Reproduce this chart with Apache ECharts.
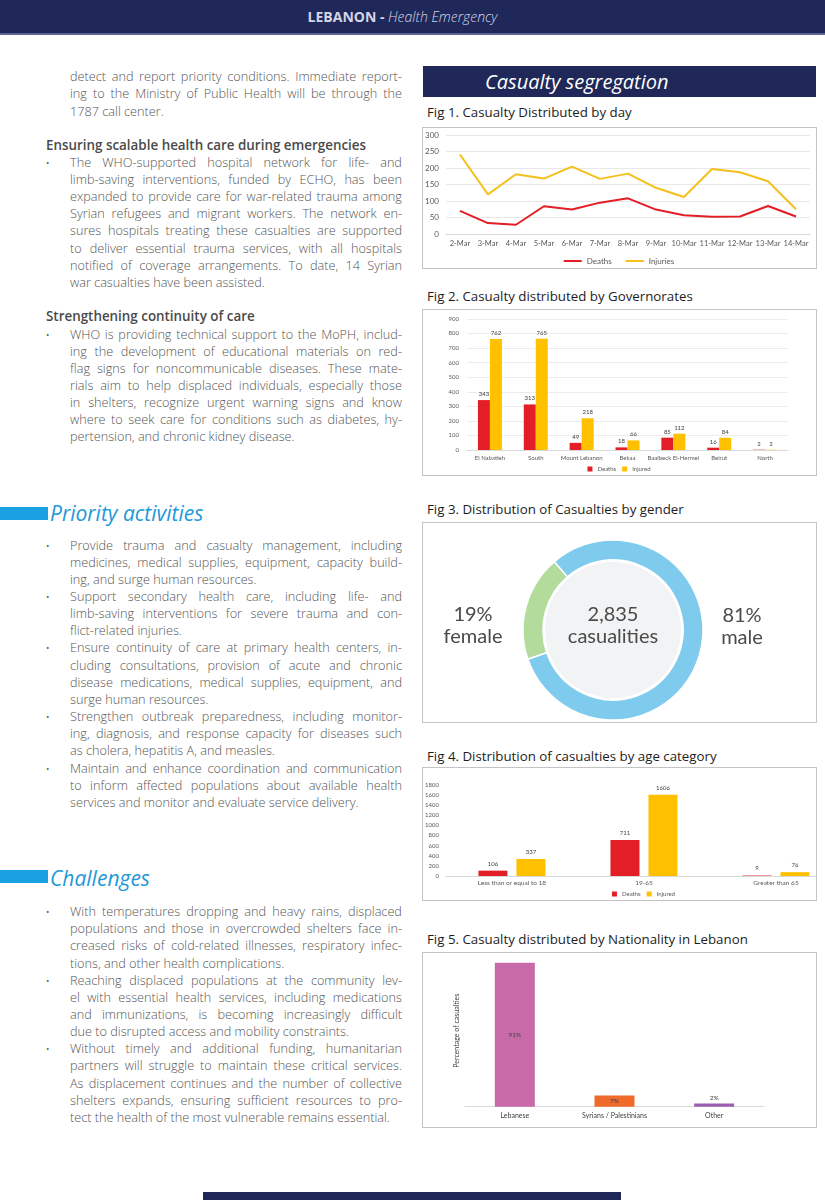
<!DOCTYPE html>
<html><head><meta charset="utf-8">
<script src="https://cdn.jsdelivr.net/npm/echarts/dist/echarts.min.js"></script>
<style>
body{margin:0;width:825px;height:1200px;position:relative;background:#fff;overflow:hidden;font-family:"Open Sans",sans-serif;}
.a{position:absolute}
.ln{position:absolute;left:70px;width:332px;height:17px;line-height:17.15px;font-size:12.7px;font-weight:300;color:#555;white-space:nowrap}
.jl{display:flex;justify-content:space-between}
.bul{position:absolute;left:46px;font-size:9px;color:#666;line-height:17.15px}
.hd{position:absolute;left:46px;font-size:13.4px;font-weight:600;color:#4a4a4a;line-height:17px;white-space:nowrap}
.figt{position:absolute;left:427px;font-size:13.3px;color:#1d1d1d;line-height:16px;white-space:nowrap}
.box{position:absolute;border:1.3px solid #c4c4c4;box-sizing:border-box;pointer-events:none}
.sec{position:absolute;left:50px;font-size:21px;font-style:italic;color:#2299d8;line-height:28px;white-space:nowrap}
.bar{position:absolute;left:0;width:48px;background:#1ba0e2}
</style></head><body>
<div class="a" style="left:0;top:0;width:825px;height:33px;background:#1f2858;border-bottom:2px solid #5a6795"></div>
<div class="a" style="left:0;top:0;width:805px;height:34px;line-height:34px;text-align:center;font-size:14px;color:#d3d6e8;white-space:nowrap"><b style="font-weight:700">LEBANON - </b><i style="font-weight:300">Health Emergency</i></div>

<div class="a" style="left:423px;top:66px;width:393px;height:31px;background:#1f2858"></div>
<div class="a" style="left:485px;top:66px;height:31px;line-height:31px;font-size:20px;font-style:italic;color:#fff;white-space:nowrap">Casualty segregation</div>

<div id="texts"></div>

<div class="figt" style="top:104px">Fig 1. Casualty Distributed by day</div>
<div class="figt" style="top:288px">Fig 2. Casualty distributed by Governorates</div>
<div class="figt" style="top:501px">Fig 3. Distribution of Casualties by gender</div>
<div class="figt" style="top:748px">Fig 4. Distribution of casualties by age category</div>
<div class="figt" style="top:931px">Fig 5. Casualty distributed by Nationality in Lebanon</div>

<div id="c1" class="a" style="left:422px;top:127px;width:394px;height:141px"></div>
<div id="c2" class="a" style="left:422px;top:309px;width:394px;height:166px"></div>
<div id="c3" class="a" style="left:422px;top:523px;width:394px;height:199px"></div>
<div class="a" style="left:422px;top:768px;width:394px;height:132px;overflow:hidden"><div id="c4" style="position:absolute;left:0;top:0;width:443px;height:132px"></div></div>
<div id="c5" class="a" style="left:422px;top:952px;width:394px;height:175px"></div>

<div class="box" style="left:422px;top:127px;width:395px;height:142px"></div>
<div class="box" style="left:422px;top:309px;width:395px;height:167px"></div>
<div class="box" style="left:422px;top:522px;width:395px;height:201px"></div>
<div class="box" style="left:422px;top:767px;width:395px;height:134px"></div>
<div class="box" style="left:422px;top:952px;width:395px;height:176px"></div>

<div class="bar" style="top:507px;height:13px"></div>
<div class="sec" style="top:499px">Priority activities</div>
<div class="bar" style="top:870px;height:13px"></div>
<div class="sec" style="top:864px">Challenges</div>

<div class="a" style="left:203px;top:1192px;width:418px;height:8px;background:#1f2858"></div>

<script>
// ---------- chart data ----------
const days = ['2-Mar','3-Mar','4-Mar','5-Mar','6-Mar','7-Mar','8-Mar','9-Mar','10-Mar','11-Mar','12-Mar','13-Mar','14-Mar'];
const dailyDeaths = [70,33,28,84,74,95,108,74,57,52,53,85,53];
const dailyInjuries = [241,120,181,168,204,167,183,140,112,197,187,160,75];
const dayTicks = [0,300,50];

const governorates = ['El Nabatieh','South','Mount Lebanon','Bekaa','Baalbeck El-Hermel','Beirut','North'];
const govDeaths = [343,313,49,18,85,16,2];
const govInjured = [762,765,218,66,112,84,2];
const govTicks = [0,900,100];

const genderLabels = ['female','male'];
const genderShares = [19,81];
const totalCasualties = 2835;

const ageGroups = ['Less than or equal to 18','19-65','Greater than 65'];
const ageDeaths = [106,711,9];
const ageInjured = [337,1606,76];
const ageTicks = [0,1800,200];

const nationalities = ['Lebanese','Syrians / Palestinians','Other'];
const nationalityShares = [91,7,2];

// ---------- page text ----------
const paras = [
 {b:81.7, bullet:false, lines:['detect and report priority conditions. Immediate report-','ing to the Ministry of Public Health will be through the','1787 call center.']},
 {b:167.3, bullet:true, lines:['The WHO-supported hospital network for life- and','limb-saving interventions, funded by ECHO, has been','expanded to provide care for war-related trauma among','Syrian refugees and migrant workers. The network en-','sures hospitals treating these casualties are supported','to deliver essential trauma services, with all hospitals','notified of coverage arrangements. To date, 14 Syrian','war casualties have been assisted.']},
 {b:339, bullet:true, lines:['WHO is providing technical support to the MoPH, includ-','ing the development of educational materials on red-','flag signs for noncommunicable diseases. These mate-','rials aim to help displaced individuals, especially those','in shelters, recognize urgent warning signs and know','where to seek care for conditions such as diabetes, hy-','pertension, and chronic kidney disease.']},
 {b:550, bullet:true, lines:['Provide trauma and casualty management, including','medicines, medical supplies, equipment, capacity build-','ing, and surge human resources.']},
 {b:550+3*17.15, bullet:true, lines:['Support secondary health care, including life- and','limb-saving interventions for severe trauma and con-','flict-related injuries.']},
 {b:550+6*17.15, bullet:true, lines:['Ensure continuity of care at primary health centers, in-','cluding consultations, provision of acute and chronic','disease medications, medical supplies, equipment, and','surge human resources.']},
 {b:550+10*17.15, bullet:true, lines:['Strengthen outbreak preparedness, including monitor-','ing, diagnosis, and response capacity for diseases such','as cholera, hepatitis A, and measles.']},
 {b:550+13*17.15, bullet:true, lines:['Maintain and enhance coordination and communication','to inform affected populations about available health','services and monitor and evaluate service delivery.']},
 {b:916.5, bullet:true, lines:['With temperatures dropping and heavy rains, displaced','populations and those in overcrowded shelters face in-','creased risks of cold-related illnesses, respiratory infec-','tions, and other health complications.']},
 {b:916.5+4*17.15, bullet:true, lines:['Reaching displaced populations at the community lev-','el with essential health services, including medications','and immunizations, is becoming increasingly difficult','due to disrupted access and mobility constraints.']},
 {b:916.5+8*17.15, bullet:true, lines:['Without timely and additional funding, humanitarian','partners will struggle to maintain these critical services.','As displacement continues and the number of collective','shelters expands, ensuring sufficient resources to pro-','tect the health of the most vulnerable remains essential.']}
];
const heads = [{b:150.7,t:'Ensuring scalable health care during emergencies'},{b:321.7,t:'Strengthening continuity of care'}];
(function(){
  const host = document.getElementById('texts');
  let html = '';
  paras.forEach(p=>{
    p.lines.forEach((l,i)=>{
      const top = (p.b + i*17.15 - 13.5).toFixed(1);
      const last = i===p.lines.length-1;
      if(last) html += `<div class="ln" style="top:${top}px">${l}</div>`;
      else html += `<div class="ln jl" style="top:${top}px">${l.split(' ').map(w=>'<span>'+w+'</span>').join('')}</div>`;
    });
    if(p.bullet) html += `<div class="bul" style="top:${(p.b-13.5).toFixed(1)}px">&#8226;</div>`;
  });
  heads.forEach(h=>{ html += `<div class="hd" style="top:${(h.b-13.6).toFixed(1)}px">${h.t}</div>`; });
  host.innerHTML = html;
})();

// ---------- charts ----------
const RED='#e31e26', YEL='#ffc000', FF='Lato, sans-serif', TC='#595959';

echarts.init(document.getElementById('c1')).setOption({
  animation:false, textStyle:{fontFamily:FF},
  grid:{left:23,right:6,top:8,bottom:34},
  legend:{bottom:3,left:'center',padding:0,icon:'rect',itemWidth:18,itemHeight:2,itemGap:14,textStyle:{fontSize:8,color:TC,fontFamily:FF},data:['Deaths','Injuries']},
  xAxis:{type:'category',data:days,axisLine:{lineStyle:{color:'#d9d9d9'}},axisTick:{show:false},axisLabel:{color:TC,fontSize:7.5,margin:6,interval:0}},
  yAxis:{type:'value',min:dayTicks[0],max:dayTicks[1],interval:dayTicks[2],axisLabel:{color:TC,fontSize:8,margin:7},splitLine:{lineStyle:{color:'#e8e8e8'}}},
  series:[
    {name:'Deaths',type:'line',data:dailyDeaths,showSymbol:false,lineStyle:{color:RED,width:2},itemStyle:{color:RED}},
    {name:'Injuries',type:'line',data:dailyInjuries,showSymbol:false,lineStyle:{color:'#f4c01c',width:2},itemStyle:{color:'#f4c01c'}}
  ]
});

echarts.init(document.getElementById('c2')).setOption({
  animation:false, textStyle:{fontFamily:FF},
  grid:{left:45,right:28,top:10,bottom:25},
  legend:{bottom:3,left:'center',padding:0,icon:'rect',itemWidth:5,itemHeight:5,itemGap:6,textStyle:{fontSize:6,color:TC,fontFamily:FF},data:['Deaths','Injured']},
  xAxis:{type:'category',data:governorates,axisLine:{lineStyle:{color:'#d9d9d9'}},axisTick:{show:false},axisLabel:{color:TC,fontSize:6,margin:5,interval:0}},
  yAxis:{type:'value',min:govTicks[0],max:govTicks[1],interval:govTicks[2],axisLabel:{color:TC,fontSize:6,margin:8},splitLine:{lineStyle:{color:'#ececec'}}},
  series:[
    {name:'Deaths',type:'bar',data:govDeaths,barWidth:12,barGap:'0%',itemStyle:{color:RED},label:{show:true,position:'top',fontSize:6,color:'#404040',distance:3}},
    {name:'Injured',type:'bar',data:govInjured,barWidth:12,itemStyle:{color:YEL},label:{show:true,position:'top',fontSize:6,color:'#404040',distance:3}}
  ]
});

const gtxt = (x,y,t)=>({type:'text',x:x,y:y,z:10,style:{text:t,align:'center',verticalAlign:'middle',font:'20px Lato',fill:'#4a4a4a'}});
echarts.init(document.getElementById('c3')).setOption({
  animation:false,
  graphic:[
    {type:'circle',shape:{cx:191,cy:107,r:68},style:{fill:'#f2f3f5'},z:0},
    gtxt(51,92,genderShares[0]+'%'), gtxt(51,114,genderLabels[0]),
    gtxt(191,92,totalCasualties.toLocaleString('en-US')), gtxt(191,114,'casualities'),
    gtxt(320,93,genderShares[1]+'%'), gtxt(320,115,genderLabels[1])
  ],
  series:[{type:'pie',center:[191,107],radius:[70,90],startAngle:199,clockwise:true,silent:true,label:{show:false},labelLine:{show:false},
    itemStyle:{borderColor:'#fff',borderWidth:1.5},
    data:genderLabels.map((n,i)=>({name:n,value:genderShares[i],itemStyle:{color:['#b3dc9c','#7fcbed'][i]}}))}]
});

echarts.init(document.getElementById('c4')).setOption({
  animation:false, textStyle:{fontFamily:FF},
  grid:{left:23.5,right:23,top:17,bottom:24},
  legend:{bottom:3,left:'center',padding:0,icon:'rect',itemWidth:5,itemHeight:5,itemGap:6,textStyle:{fontSize:6,color:TC,fontFamily:FF},data:['Deaths','Injured']},
  xAxis:{type:'category',data:ageGroups,axisLine:{lineStyle:{color:'#d9d9d9'}},axisTick:{show:false},axisLabel:{color:TC,fontSize:6.5,margin:3,interval:0}},
  yAxis:{type:'value',min:ageTicks[0],max:ageTicks[1],interval:ageTicks[2],axisLabel:{color:TC,fontSize:6,margin:7,formatter:v=>String(v)},splitLine:{show:false}},
  series:[
    {name:'Deaths',type:'bar',data:ageDeaths,barWidth:29,barGap:'31%',itemStyle:{color:RED},label:{show:true,position:'top',fontSize:6,color:'#404040',distance:4}},
    {name:'Injured',type:'bar',data:ageInjured,barWidth:29,itemStyle:{color:YEL},label:{show:true,position:'top',fontSize:6,color:'#404040',distance:4}}
  ]
});

const natColors=['#c86aa8','#ee6b2c','#9b5fb0'];
echarts.init(document.getElementById('c5')).setOption({
  animation:false, textStyle:{fontFamily:FF},
  grid:{left:43,right:52,top:10.7,bottom:20.3},
  xAxis:{type:'category',data:nationalities,axisLine:{lineStyle:{color:'#d9d9d9'}},axisTick:{show:false},axisLabel:{color:'#404040',fontSize:7,margin:6,interval:0}},
  yAxis:{type:'value',min:0,max:v=>v.max,name:'Percentage of casualties',nameLocation:'middle',nameGap:5,nameRotate:90,nameTextStyle:{fontSize:7,color:'#404040',padding:[0,0,0,8]},axisLabel:{show:false},axisLine:{show:false},axisTick:{show:false},splitLine:{show:false}},
  series:[{type:'bar',barWidth:40,data:nationalityShares.map((v,i)=>({value:v,itemStyle:{color:natColors[i]},label:{position:v<5?'top':'inside'}})),
    label:{show:true,formatter:'{c}%',fontSize:6.5,color:'#404040',distance:2}}]
});
</script>
</body></html>
